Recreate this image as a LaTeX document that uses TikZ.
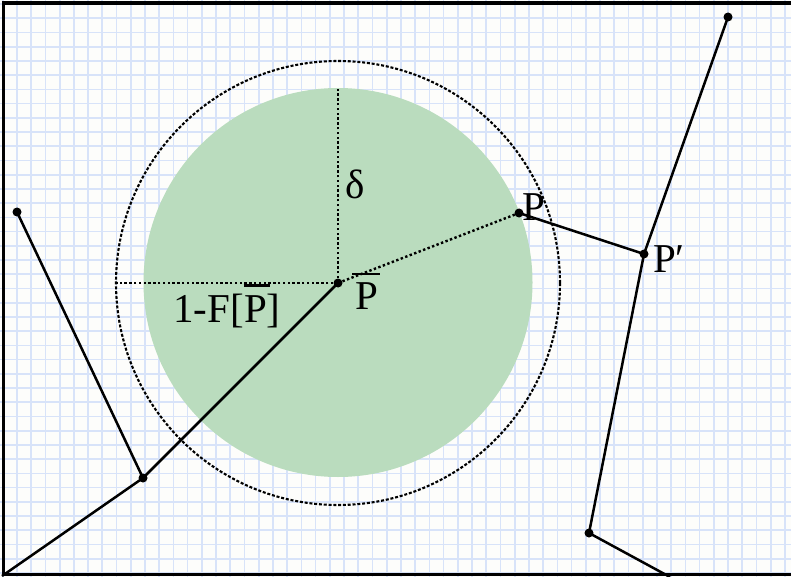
\documentclass[tikz,border=0pt]{standalone}
\usepackage{fontspec}
\setmainfont{Liberation Serif}
\usetikzlibrary{calc}
\definecolor{gridblue}{RGB}{216,227,249}
\definecolor{diskgreen}{RGB}{186,220,190}
\definecolor{paper}{RGB}{253,253,251}
\newcommand\ovP[3]{\makebox[0pt][l]{\hspace*{#3}\rule[#1]{#2}{0.055em}}P}
\tikzset{
  gridline/.style={draw=gridblue,line width=1.7pt},
  dotline/.style={line width=2.4pt,dash pattern=on 2.4pt off 2.4pt},
  ringline/.style={line width=2.1pt,dash pattern=on 3pt off 1.8pt},
  solidline/.style={line width=2.5pt},
  pt/.style={circle,fill=black,inner sep=0pt,minimum size=9pt},
  lbl/.style={font=\fontsize{41}{48}\selectfont,inner sep=0pt,anchor=base},
}
\begin{document}
\begin{tikzpicture}[x=1pt,y=-1pt]
\useasboundingbox (0,0) rectangle (791,577);
\fill[paper] (0,0) rectangle (791,577);
% grid
\foreach \i in {0,...,55} {
  \draw[gridline] ({2.78+14.22*\i},0) -- ({2.78+14.22*\i},577);
}
\foreach \j in {0,...,40} {
  \draw[gridline] (0,{4.1+14.22*\j}) -- (791,{4.1+14.22*\j});
}
% disk
\fill[diskgreen] (338,282.5) circle[radius=194.5pt];
% points
\node[pt] (pbar) at (338,283) {};
\node[pt] (p) at (519,213) {};
\node[pt] (pp) at (644,254) {};
\node[pt] (a1) at (728,17) {};
\node[pt] (a2) at (589,533) {};
\coordinate (a3) at (670,577);
\node[pt] (b1) at (17,212) {};
\node[pt] (b2) at (143,478) {};
\coordinate (b3) at (2,576);
\coordinate (dtop) at (338,88);
\coordinate (rleft) at (117,283);
% outer dotted circle
\draw[ringline] (338,283) circle[radius=222pt];
% dotted lines
\draw[dotline] (pbar.center) -- (dtop);
\draw[dotline] (pbar.center) -- (rleft);
\draw[dotline] (pbar.center) -- (p.center);
% solid lines
\draw[solidline] (p.center) -- (pp.center);
\draw[solidline] (a1.center) -- (pp.center) -- (a2.center) -- (a3);
\draw[solidline] (b1.center) -- (b2.center) -- (b3);
\draw[solidline] (b2.center) -- (pbar.center);
% labels
\node[lbl] (ldelta) at (355,199) {δ};
\node[lbl] (lpbar) at (367,309) {\ovP{0.83em}{0.68em}{-0.08em}};
\node[lbl] (lf) at (227,322) {1-F[\ovP{0.86em}{0.64em}{-0.01em}]};
\node[lbl] (lp) at (534,220) {P};
\node[lbl] (lpp) at (669,272) {P′};
% frame
\draw[line width=3.2pt] (791,3) -- (3.5,3) -- (3.5,574.5) -- (791,574.5);
\end{tikzpicture}
\end{document}
